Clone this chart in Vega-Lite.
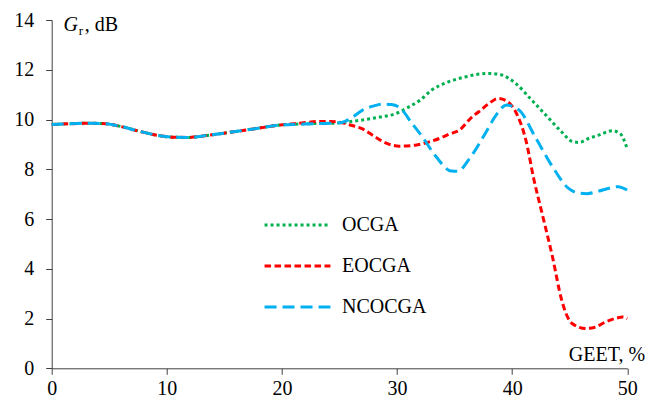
{
  "$schema": "https://vega.github.io/schema/vega-lite/v6.json",
  "width": 575.6,
  "height": 348.3,
  "autosize": "none",
  "padding": {"left": 51.7, "top": 20, "right": 34.7, "bottom": 41.7},
  "background": "white",
  "config": {
    "view": {"stroke": null},
    "font": "Liberation Serif, Times New Roman, serif",
    "axis": {
      "grid": false,
      "labelFont": "Liberation Serif, Times New Roman, serif",
      "labelFontSize": 20,
      "labelColor": "black",
      "titleFont": "Liberation Serif, Times New Roman, serif",
      "titleFontSize": 20,
      "titleFontWeight": "normal",
      "titleColor": "black",
      "domainColor": "#404040",
      "tickColor": "#404040",
      "tickSize": 6,
      "labelBound": false,
      "labelOverlap": false
    },
    "legend": {
      "labelFont": "Liberation Serif, Times New Roman, serif"
    }
  },
  "data": {
    "values": [
      {"s": "OCGA", "x": 0, "y": 9.80}, {"s": "OCGA", "x": 1.5, "y": 9.83}, {"s": "OCGA", "x": 3.3, "y": 9.85}, {"s": "OCGA", "x": 4.7, "y": 9.83}, {"s": "OCGA", "x": 6, "y": 9.72}, {"s": "OCGA", "x": 7.6, "y": 9.53}, {"s": "OCGA", "x": 9, "y": 9.38}, {"s": "OCGA", "x": 10.5, "y": 9.29}, {"s": "OCGA", "x": 11.9, "y": 9.28}, {"s": "OCGA", "x": 13.5, "y": 9.36}, {"s": "OCGA", "x": 15.4, "y": 9.48}, {"s": "OCGA", "x": 17.5, "y": 9.62}, {"s": "OCGA", "x": 19.7, "y": 9.77}, {"s": "OCGA", "x": 21.5, "y": 9.82}, {"s": "OCGA", "x": 23.2, "y": 9.84}, {"s": "OCGA", "x": 24.5, "y": 9.85}, {"s": "OCGA", "x": 25.2, "y": 9.87},
      {"s": "OCGA", "x": 26, "y": 9.92}, {"s": "OCGA", "x": 27, "y": 9.98}, {"s": "OCGA", "x": 28.5, "y": 10.1}, {"s": "OCGA", "x": 29.9, "y": 10.24}, {"s": "OCGA", "x": 31, "y": 10.5}, {"s": "OCGA", "x": 32, "y": 10.78}, {"s": "OCGA", "x": 33, "y": 11.18}, {"s": "OCGA", "x": 34.5, "y": 11.52}, {"s": "OCGA", "x": 36, "y": 11.72}, {"s": "OCGA", "x": 37, "y": 11.82}, {"s": "OCGA", "x": 38, "y": 11.85}, {"s": "OCGA", "x": 39, "y": 11.8}, {"s": "OCGA", "x": 40.3, "y": 11.45}, {"s": "OCGA", "x": 41.7, "y": 10.78}, {"s": "OCGA", "x": 43.2, "y": 10.04}, {"s": "OCGA", "x": 44.3, "y": 9.5}, {"s": "OCGA", "x": 45.2, "y": 9.12}, {"s": "OCGA", "x": 45.8, "y": 9.08}, {"s": "OCGA", "x": 46.7, "y": 9.25}, {"s": "OCGA", "x": 47.5, "y": 9.37}, {"s": "OCGA", "x": 48.7, "y": 9.55}, {"s": "OCGA", "x": 49.4, "y": 9.42}, {"s": "OCGA", "x": 50, "y": 8.82},

      {"s": "EOCGA", "x": 0, "y": 9.80}, {"s": "EOCGA", "x": 1.5, "y": 9.83}, {"s": "EOCGA", "x": 3.3, "y": 9.85}, {"s": "EOCGA", "x": 4.7, "y": 9.83}, {"s": "EOCGA", "x": 6, "y": 9.72}, {"s": "EOCGA", "x": 7.6, "y": 9.53}, {"s": "EOCGA", "x": 9, "y": 9.38}, {"s": "EOCGA", "x": 10.5, "y": 9.29}, {"s": "EOCGA", "x": 11.9, "y": 9.28}, {"s": "EOCGA", "x": 13.5, "y": 9.36}, {"s": "EOCGA", "x": 15.4, "y": 9.48}, {"s": "EOCGA", "x": 17.5, "y": 9.62}, {"s": "EOCGA", "x": 19.7, "y": 9.77}, {"s": "EOCGA", "x": 21.5, "y": 9.85}, {"s": "EOCGA", "x": 23.2, "y": 9.92}, {"s": "EOCGA", "x": 24.2, "y": 9.92}, {"s": "EOCGA", "x": 25.2, "y": 9.87},
      {"s": "EOCGA", "x": 26, "y": 9.77}, {"s": "EOCGA", "x": 27, "y": 9.62}, {"s": "EOCGA", "x": 28, "y": 9.33}, {"s": "EOCGA", "x": 29, "y": 9.06}, {"s": "EOCGA", "x": 30.2, "y": 8.93}, {"s": "EOCGA", "x": 31.6, "y": 8.97}, {"s": "EOCGA", "x": 32.8, "y": 9.1}, {"s": "EOCGA", "x": 34, "y": 9.3}, {"s": "EOCGA", "x": 34.5, "y": 9.41}, {"s": "EOCGA", "x": 35.4, "y": 9.57}, {"s": "EOCGA", "x": 36.5, "y": 10.1}, {"s": "EOCGA", "x": 37.1, "y": 10.31}, {"s": "EOCGA", "x": 38, "y": 10.65}, {"s": "EOCGA", "x": 38.8, "y": 10.85}, {"s": "EOCGA", "x": 39.5, "y": 10.75}, {"s": "EOCGA", "x": 40.3, "y": 10.31}, {"s": "EOCGA", "x": 41.2, "y": 9.15}, {"s": "EOCGA", "x": 41.9, "y": 7.56}, {"s": "EOCGA", "x": 42.6, "y": 6.22}, {"s": "EOCGA", "x": 43.5, "y": 4.48}, {"s": "EOCGA", "x": 44.3, "y": 2.74}, {"s": "EOCGA", "x": 45.2, "y": 1.8}, {"s": "EOCGA", "x": 46.4, "y": 1.6}, {"s": "EOCGA", "x": 47.2, "y": 1.65}, {"s": "EOCGA", "x": 48.1, "y": 1.86}, {"s": "EOCGA", "x": 49.1, "y": 2.02}, {"s": "EOCGA", "x": 49.6, "y": 2.06}, {"s": "EOCGA", "x": 50, "y": 2.0},

      {"s": "NCOCGA", "x": 0, "y": 9.80}, {"s": "NCOCGA", "x": 1.5, "y": 9.83}, {"s": "NCOCGA", "x": 3.3, "y": 9.85}, {"s": "NCOCGA", "x": 4.7, "y": 9.83}, {"s": "NCOCGA", "x": 6, "y": 9.72}, {"s": "NCOCGA", "x": 7.6, "y": 9.53}, {"s": "NCOCGA", "x": 9, "y": 9.38}, {"s": "NCOCGA", "x": 10.5, "y": 9.29}, {"s": "NCOCGA", "x": 11.9, "y": 9.28}, {"s": "NCOCGA", "x": 13.5, "y": 9.36}, {"s": "NCOCGA", "x": 15.4, "y": 9.48}, {"s": "NCOCGA", "x": 17.5, "y": 9.62}, {"s": "NCOCGA", "x": 19.7, "y": 9.77}, {"s": "NCOCGA", "x": 21.5, "y": 9.81}, {"s": "NCOCGA", "x": 23.2, "y": 9.84}, {"s": "NCOCGA", "x": 24.5, "y": 9.85}, {"s": "NCOCGA", "x": 25.2, "y": 9.88},
      {"s": "NCOCGA", "x": 26, "y": 10.05}, {"s": "NCOCGA", "x": 27, "y": 10.38}, {"s": "NCOCGA", "x": 28, "y": 10.55}, {"s": "NCOCGA", "x": 28.7, "y": 10.62}, {"s": "NCOCGA", "x": 29.5, "y": 10.6}, {"s": "NCOCGA", "x": 30.2, "y": 10.49}, {"s": "NCOCGA", "x": 31.3, "y": 9.84}, {"s": "NCOCGA", "x": 32.2, "y": 9.3}, {"s": "NCOCGA", "x": 33.4, "y": 8.5}, {"s": "NCOCGA", "x": 34.7, "y": 7.93}, {"s": "NCOCGA", "x": 35.3, "y": 7.92}, {"s": "NCOCGA", "x": 36.2, "y": 8.37}, {"s": "NCOCGA", "x": 37.7, "y": 9.47}, {"s": "NCOCGA", "x": 38.6, "y": 10.18}, {"s": "NCOCGA", "x": 39.5, "y": 10.58}, {"s": "NCOCGA", "x": 40.6, "y": 10.38}, {"s": "NCOCGA", "x": 42, "y": 9.3}, {"s": "NCOCGA", "x": 43.5, "y": 8.1}, {"s": "NCOCGA", "x": 44.9, "y": 7.23}, {"s": "NCOCGA", "x": 45.7, "y": 7.05}, {"s": "NCOCGA", "x": 46.5, "y": 7.02}, {"s": "NCOCGA", "x": 47.5, "y": 7.12}, {"s": "NCOCGA", "x": 48.5, "y": 7.25}, {"s": "NCOCGA", "x": 49.2, "y": 7.3}, {"s": "NCOCGA", "x": 50, "y": 7.16}
    ]
  },
  "layer": [
    {
      "mark": {"type": "line", "interpolate": "monotone", "strokeWidth": 3, "strokeCap": "butt"},
      "encoding": {
        "x": {
          "field": "x", "type": "quantitative",
          "scale": {"domain": [0, 50], "nice": false, "zero": false},
          "axis": {
            "values": [0, 10, 20, 30, 40, 50],
            "labelPadding": 4,
            "labelFlush": false,
            "title": "GEET, %",
            "titleX": 554.8,
            "titleY": -8.3,
            "titleAlign": "center",
            "titleBaseline": "alphabetic"
          }
        },
        "y": {
          "field": "y", "type": "quantitative",
          "scale": {"domain": [0, 14], "nice": false},
          "axis": {
            "values": [0, 2, 4, 6, 8, 10, 12, 14],
            "labelPadding": 12,
            "title": "G",
            "titleFontStyle": "italic",
            "titleAngle": 0,
            "titleAlign": "left",
            "titleBaseline": "alphabetic",
            "titleX": 11.3,
            "titleY": 10
          }
        },
        "color": {
          "field": "s", "type": "nominal",
          "scale": {"domain": ["OCGA", "EOCGA", "NCOCGA"], "range": ["#00B050", "#FF0000", "#00B0F0"]},
          "legend": {
            "title": null, "orient": "none", "legendX": 224.8, "legendY": 184,
            "symbolType": "M-1.69,0L1.69,0", "symbolSize": 1521, "symbolStrokeWidth": 3,
            "labelFont": "Liberation Serif, Times New Roman, serif", "labelFontSize": 20, "labelColor": "black",
            "labelOffset": 23.5, "rowPadding": 10, "padding": 0, "symbolOffset": 0
          }
        },
        "strokeDash": {
          "field": "s", "type": "nominal",
          "scale": {"domain": ["OCGA", "EOCGA", "NCOCGA"], "range": [[3, 3], [6.5, 3.5], [12, 6]]},
          "legend": {
            "title": null, "orient": "none", "legendX": 224.8, "legendY": 184,
            "symbolType": "M-1.69,0L1.69,0", "symbolSize": 1521, "symbolStrokeWidth": 3,
            "labelFont": "Liberation Serif, Times New Roman, serif", "labelFontSize": 20, "labelColor": "black",
            "labelOffset": 23.5, "rowPadding": 10, "padding": 0, "symbolOffset": 0
          }
        }
      }
    },
    {
      "mark": {"type": "point", "opacity": 0},
      "encoding": {
        "x": {
          "field": "x", "type": "quantitative",
          "axis": {
            "orient": "top", "domain": false, "ticks": false, "labels": false,
            "title": ", dB", "titleX": 32.6, "titleY": 10,
            "titleAlign": "left", "titleBaseline": "alphabetic"
          }
        },
        "y": {
          "field": "y", "type": "quantitative",
          "axis": {
            "orient": "right", "domain": false, "ticks": false, "labels": false,
            "title": "r", "titleFontSize": 13, "titleAngle": 0,
            "titleX": -549, "titleY": 14,
            "titleAlign": "left", "titleBaseline": "alphabetic"
          }
        }
      }
    }
  ],
  "resolve": {"axis": {"x": "independent", "y": "independent"}}
}
